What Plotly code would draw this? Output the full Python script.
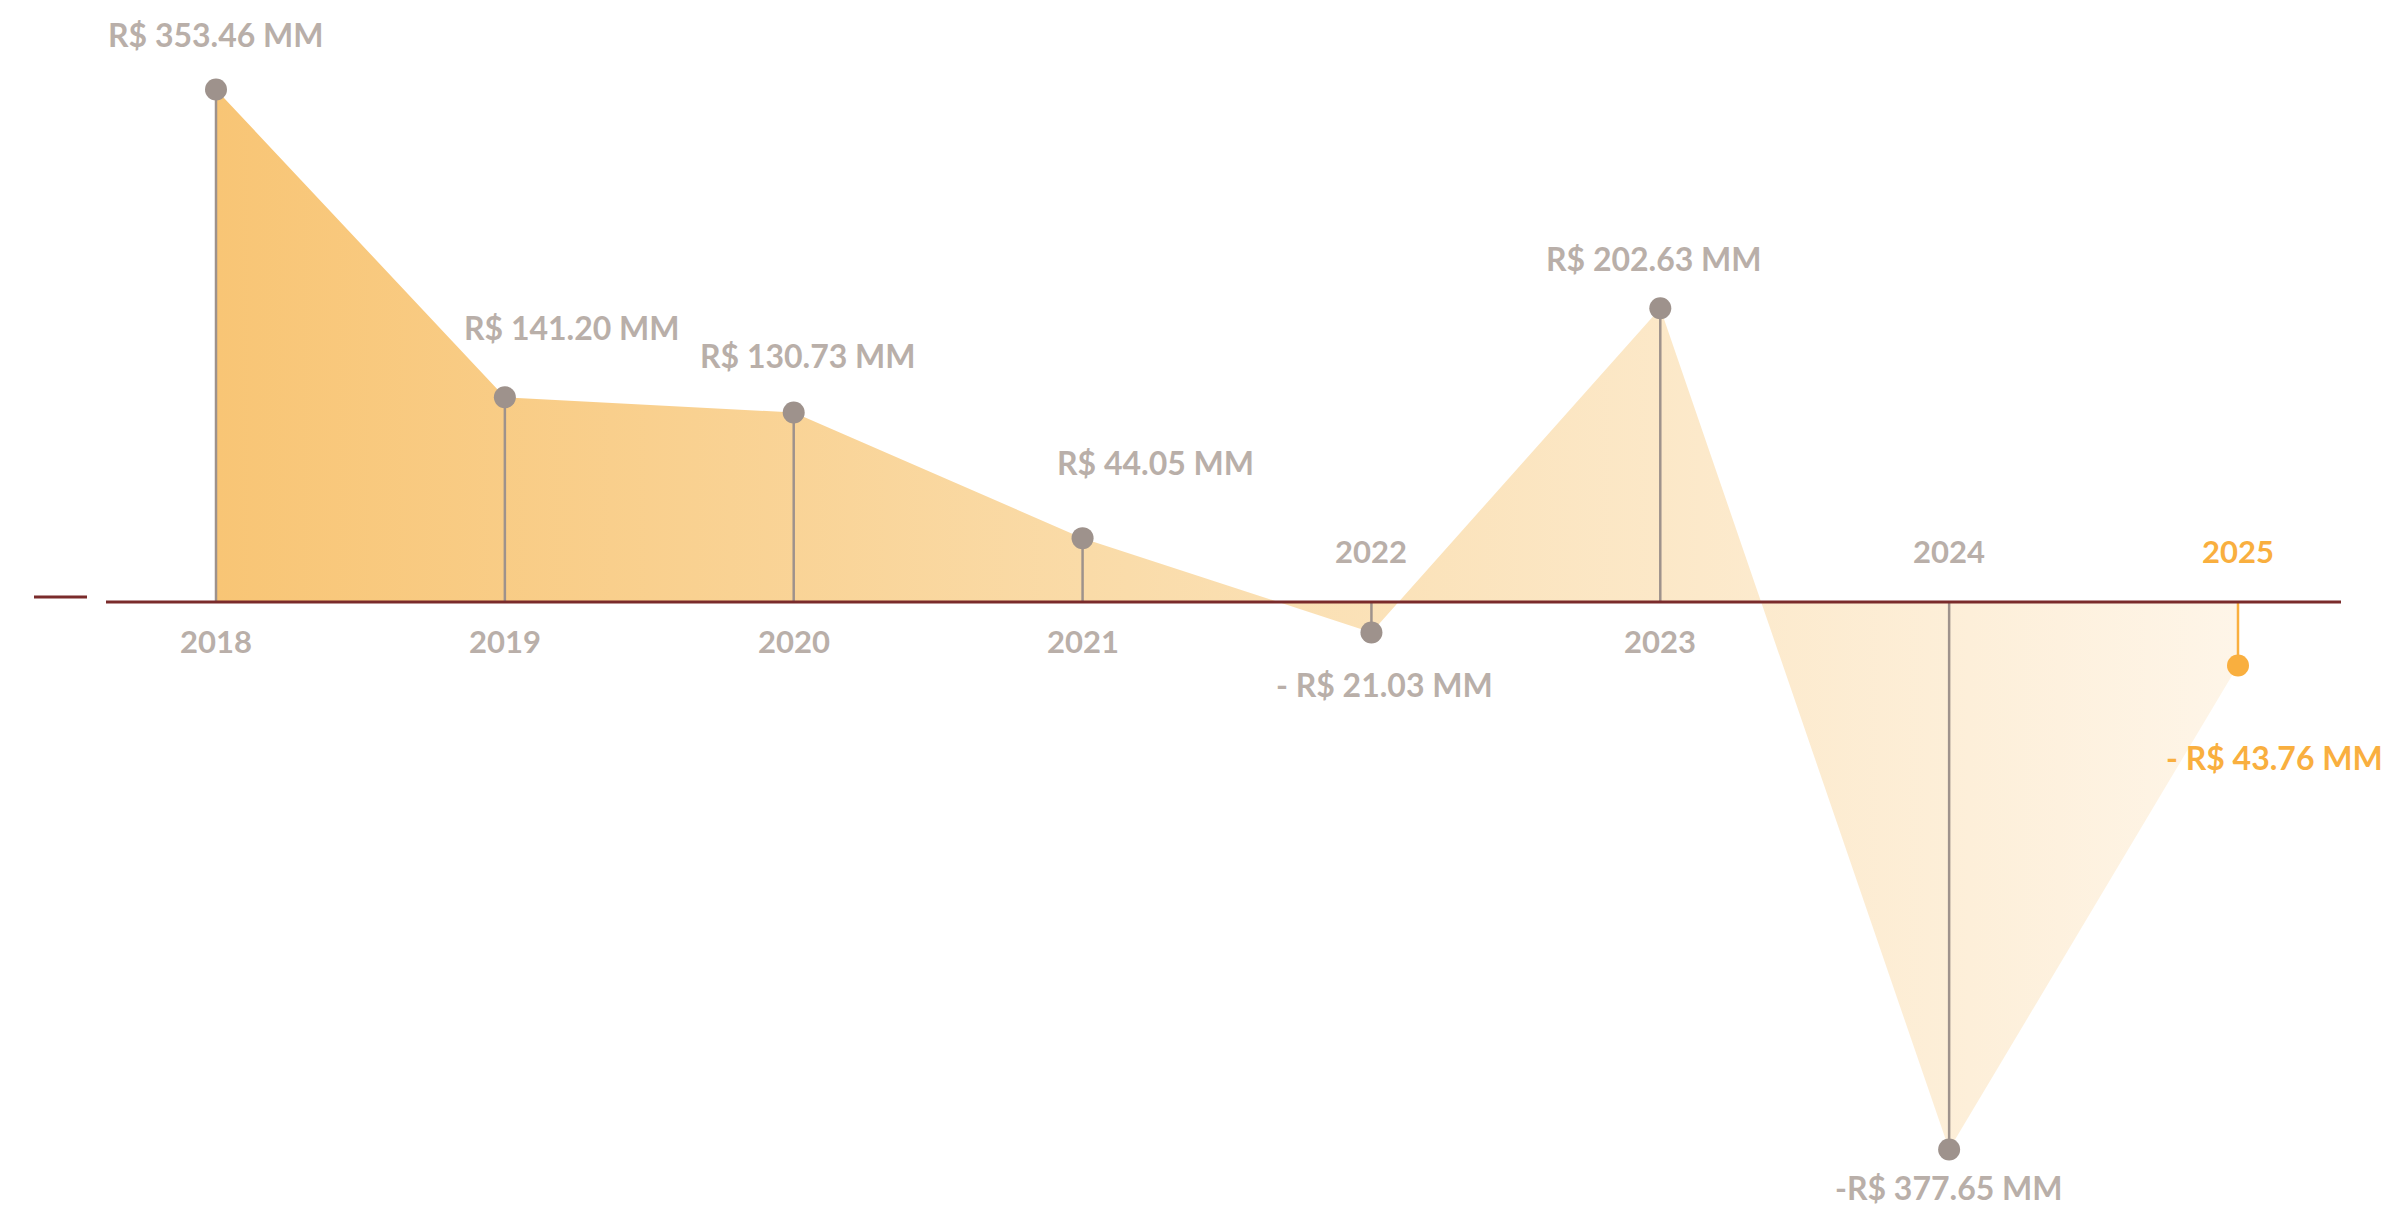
import plotly.graph_objects as go

# dados
anos = [2018, 2019, 2020, 2021, 2022, 2023, 2024, 2025]
valores = [353.46, 141.20, 130.73, 44.05, -21.03, 202.63, -377.65, -43.76]
rotulos = ["R$ 353.46 MM", "R$ 141.20 MM", "R$ 130.73 MM", "R$ 44.05 MM",
           "- R$ 21.03 MM", "R$ 202.63 MM", "-R$ 377.65 MM", "- R$ 43.76 MM"]
anos_txt = [str(a) for a in anos]

# deslocamento dos rótulos (px) em relação ao marcador
desloc = [(0, 55), (67, 70), (14, 57), (73, 76), (13, -52), (-6, 50), (0, -38), (36, -92)]

W, H = 2382, 1206
px_ano = (2238 - 216) / 7
xmin = 2018 - 216 / px_ano
xmax = xmin + W / px_ano
esc = 1.45
ymax = 602 / esc
ymin = -(H - 602) / esc

cinza = "#9E928C"
texto = "#B9AFA9"
laranja = "#F9AF3F"
vinho = "#7A2B2B"

fig = go.Figure()

fig.add_trace(go.Scatter(
    x=anos, y=valores, mode="lines", fill="tozeroy",
    line=dict(shape="linear", width=0, color="rgba(0,0,0,0)"),
    fillgradient=dict(type="horizontal",
                      colorscale=[[0, "#F8C575"], [0.45, "#FADCAA"], [1, "#FEF5E8"]]),
    hoverinfo="skip", showlegend=False))

# hastes
for i, (a, v) in enumerate(zip(anos, valores)):
    cor = laranja if i == len(anos) - 1 else cinza
    fig.add_trace(go.Scatter(x=[a, a], y=[0, v], mode="lines",
                             line=dict(color=cor, width=2.5),
                             hoverinfo="skip", showlegend=False))

cores = [cinza] * (len(anos) - 1) + [laranja]
fig.add_trace(go.Scatter(x=anos, y=valores, mode="markers",
                         marker=dict(size=22, color=cores),
                         hoverinfo="skip", showlegend=False))

for i, (a, v, t) in enumerate(zip(anos, valores, rotulos)):
    cor = laranja if i == len(anos) - 1 else texto
    dx, dy = desloc[i]
    fig.add_annotation(x=a, y=v, text=t, showarrow=False, xshift=dx, yshift=dy,
                       font=dict(family="Lato", size=32, color=cor, weight=700))
    fig.add_annotation(x=a, y=0, text=anos_txt[i], showarrow=False,
                       yshift=(51 if v < 0 else -39),
                       font=dict(family="Lato", size=31, color=cor, weight=700))

fig.add_shape(type="line", x0=xmin + 106 / px_ano, x1=xmin + 2341 / px_ano, y0=0, y1=0,
              line=dict(color=vinho, width=3), layer="above")
fig.add_shape(type="line", x0=xmin + 34 / px_ano, x1=xmin + 87 / px_ano,
              y0=5 / esc, y1=5 / esc, line=dict(color=vinho, width=3))

fig.update_layout(
    width=W, height=H, margin=dict(l=0, r=0, t=0, b=0),
    paper_bgcolor="white", plot_bgcolor="white",
    xaxis=dict(range=[xmin, xmax], visible=False, fixedrange=True),
    yaxis=dict(range=[ymin, ymax], visible=False, fixedrange=True),
    font=dict(family="Lato"),
)

fig.write_html("out.html", config={"displayModeBar": False},
               post_script="document.body.style.margin='0';")
